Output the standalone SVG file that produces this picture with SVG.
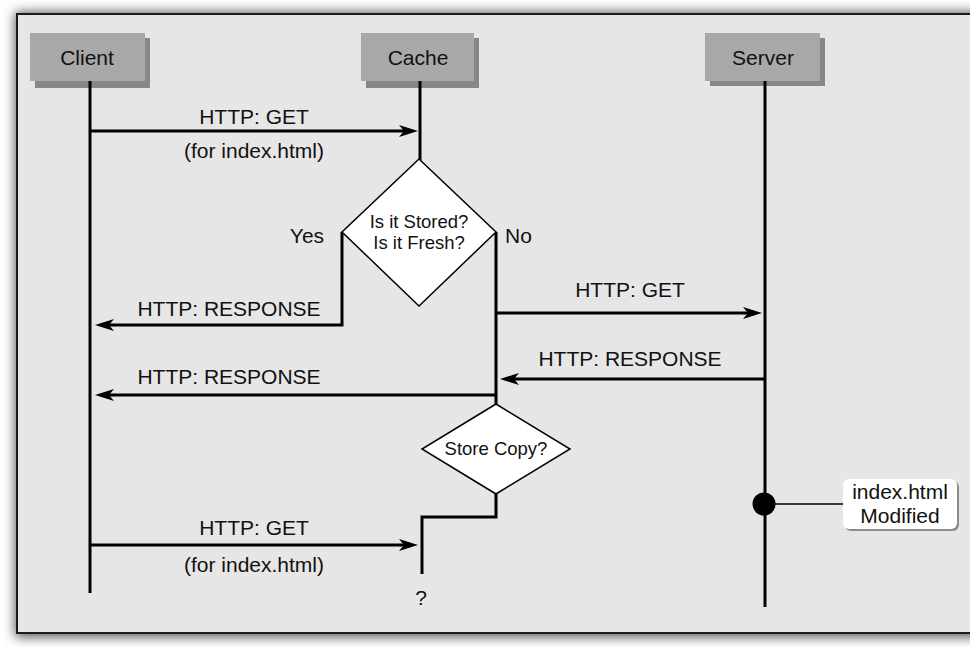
<svg xmlns="http://www.w3.org/2000/svg" width="970" height="647" viewBox="0 0 970 647">
  <defs>
    <filter id="frameShadow" x="-5%" y="-8%" width="110%" height="116%">
      <feGaussianBlur stdDeviation="6"/>
    </filter>
    <marker id="arrow" markerUnits="userSpaceOnUse" markerWidth="20" markerHeight="14" refX="11" refY="6" orient="auto">
      <path d="M0,0 L19,6 L0,12 L5,6 Z" fill="#000"/>
    </marker>
    <style>
      text { font-family: "Liberation Sans", Arial, Helvetica, sans-serif; fill: #111; }
      .lbl { font-size: 21px; text-anchor: middle; }
      .dtxt { font-size: 18.5px; text-anchor: middle; }
      .box { fill: #a8a8a8; }
      .boxShadow { fill: #878787; }
      .life { stroke: #000; stroke-width: 3; fill: none; }
      .msg { stroke: #000; stroke-width: 3; fill: none; marker-end: url(#arrow); }
      .diamond { fill: #fff; stroke: #000; stroke-width: 1.5; }
    </style>
  </defs>

  <!-- page and framed panel -->
  <rect x="0" y="0" width="970" height="647" fill="#fff"/>
  <rect x="15" y="12" width="994" height="625" fill="#555" filter="url(#frameShadow)"/>
  <rect x="17" y="14" width="990" height="619" fill="#e6e6e6" stroke="#1a1a1a" stroke-width="2"/>

  <!-- participants -->
  <g id="client">
    <rect class="boxShadow" x="35" y="38" width="115" height="50"/>
    <rect class="box" x="30" y="33" width="115" height="48"/>
    <text class="lbl" x="87" y="65">Client</text>
  </g>
  <g id="cache">
    <rect class="boxShadow" x="366" y="38" width="113" height="50"/>
    <rect class="box" x="361" y="33" width="113" height="48"/>
    <text class="lbl" x="418" y="65">Cache</text>
  </g>
  <g id="server">
    <rect class="boxShadow" x="710" y="38" width="115" height="48"/>
    <rect class="box" x="705" y="33" width="115" height="48"/>
    <text class="lbl" x="763" y="65">Server</text>
  </g>

  <!-- lifelines, flow lines and messages -->
  <g id="connectors">
    <line class="life" x1="90" y1="81" x2="90" y2="593"/>
    <line class="life" x1="420" y1="81" x2="420" y2="160"/>
    <line class="life" x1="765" y1="81" x2="765" y2="607"/>

    <!-- request from client -->
    <path class="msg" d="M90,131 H410"/>
    <!-- Yes branch: served from cache -->
    <path class="msg" d="M342,232 V325 H103"/>
    <!-- No branch: go to origin -->
    <line class="life" x1="496" y1="232" x2="496" y2="404"/>
    <path class="msg" d="M496,313 H754"/>
    <path class="msg" d="M765,379 H508"/>
    <path class="msg" d="M496,395 H103"/>
    <!-- after store decision -->
    <path class="life" d="M496,494 V517 H422 V574"/>
    <!-- second request -->
    <path class="msg" d="M90,545 H410"/>
    <!-- modification event -->
    <line x1="764" y1="504" x2="843" y2="504" stroke="#000" stroke-width="1.5"/>
  </g>

  <!-- message labels -->
  <g id="message-labels">
    <text class="lbl" x="254" y="124">HTTP: GET</text>
    <text class="lbl" x="254" y="158">(for index.html)</text>
    <text class="lbl" x="229" y="316">HTTP: RESPONSE</text>
    <text class="lbl" x="229" y="384">HTTP: RESPONSE</text>
    <text class="lbl" x="630" y="297">HTTP: GET</text>
    <text class="lbl" x="630" y="366">HTTP: RESPONSE</text>
    <text class="lbl" x="254" y="535">HTTP: GET</text>
    <text class="lbl" x="254" y="572">(for index.html)</text>
    <text class="lbl" x="421" y="605">?</text>
  </g>

  <!-- decisions -->
  <g id="decision-fresh">
    <polygon class="diamond" points="419,159 496,232 419,306 342,232"/>
    <text class="dtxt" x="419" y="228">Is it Stored?</text>
    <text class="dtxt" x="419" y="249">Is it Fresh?</text>
    <text class="lbl" x="307" y="243">Yes</text>
    <text class="lbl" x="505" y="243" style="text-anchor:start">No</text>
  </g>
  <g id="decision-store">
    <polygon class="diamond" points="496,404 570,449 496,494 422,449"/>
    <text class="dtxt" x="496" y="455">Store Copy?</text>
  </g>

  <!-- server event -->
  <g id="note-modified">
    <circle cx="764" cy="504" r="11.5" fill="#000"/>
    <rect x="845" y="481" width="114" height="50" rx="6" fill="#8c8c8c"/>
    <rect x="843" y="479" width="114" height="50" rx="6" fill="#fff"/>
    <text class="lbl" x="900" y="499">index.html</text>
    <text class="lbl" x="900" y="523">Modified</text>
  </g>
</svg>
